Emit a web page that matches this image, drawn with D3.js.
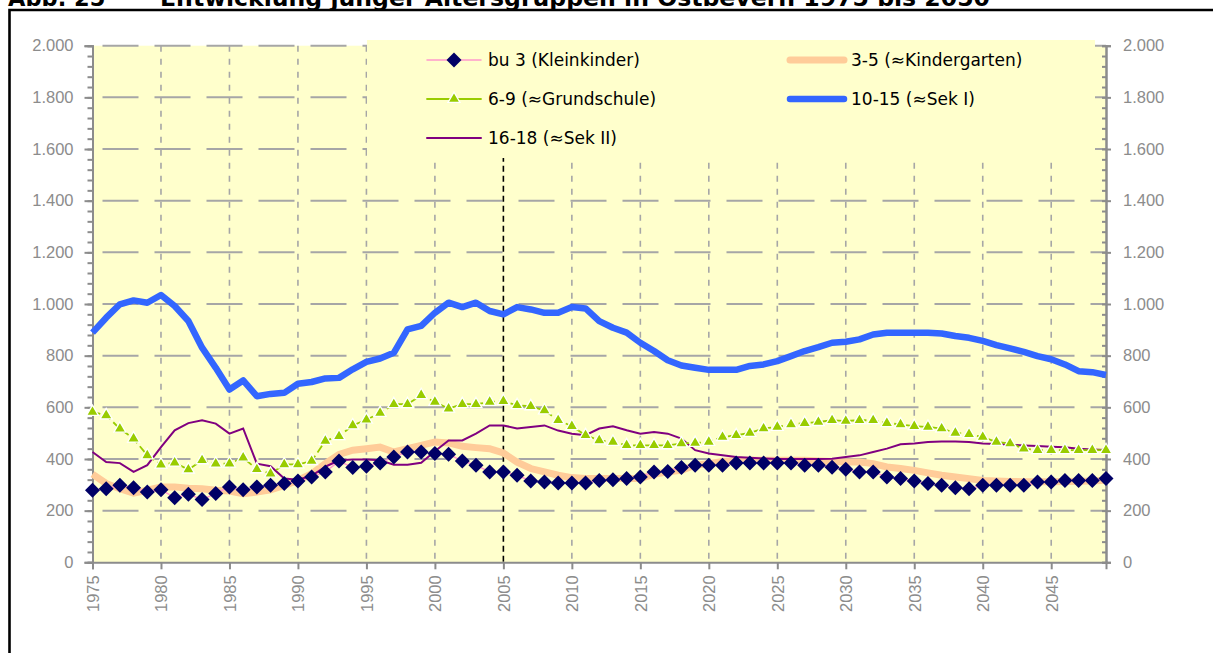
<!DOCTYPE html>
<html>
<head>
<meta charset="utf-8">
<script src="https://cdn.jsdelivr.net/npm/d3@7"></script>
<style>
  body { margin: 0; background: #fff; }
  svg { display: block; font-family: "DejaVu Sans", Verdana, sans-serif; }
  .axis path, .axis line { stroke: #8c8c8c; stroke-width: 2; }
  .axis text { fill: #8c8c8c; font-size: 16.5px; }
  .legend text { fill: #000; font-size: 17px; }
</style>
</head>
<body>
<div id="chart"></div>
<script>
// years 1975..2049
var years = d3.range(1975, 2050);
var xTicks = [1975, 1980, 1985, 1990, 1995, 2000, 2005, 2010, 2015, 2020, 2025, 2030, 2035, 2040, 2045];
var yTicks = [0, 200, 400, 600, 800, 1000, 1200, 1400, 1600, 1800, 2000];

var kleinkinder = [279, 285, 298, 289, 272, 281, 250, 263, 243, 266,
  292, 281, 292, 298, 305, 315, 330, 350, 392, 367,
  372, 384, 408, 427, 427, 421, 418, 392, 376, 350,
  350, 337, 315, 311, 307, 307, 307, 317, 320, 324,
  330, 350, 352, 367, 376, 376, 376, 384, 384, 384,
  384, 384, 376, 376, 368, 360, 350, 350, 330, 324,
  315, 305, 298, 289, 285, 298, 298, 298, 298, 311,
  311, 317, 317, 317, 324];

var kindergarten = [341, 305, 285, 268, 279, 292, 292, 287, 285, 279,
  276, 266, 272, 281, 298, 317, 343, 382, 418, 434,
  440, 446, 427, 440, 453, 466, 462, 449, 444, 440,
  423, 388, 363, 350, 337, 328, 324, 324, 324, 324,
  324, 341, 350, 356, 376, 382, 390, 393, 395, 395,
  395, 395, 395, 392, 390, 388, 388, 382, 369, 363,
  356, 346, 337, 330, 324, 317, 315, 313, 312, 312,
  312, 313, 314, 315, 318];

var grundschule = [582, 569, 517, 479, 414, 378, 386, 359, 395, 382,
  382, 405, 360, 343, 379, 379, 392, 470, 488, 530,
  552, 578, 612, 612, 647, 621, 595, 612, 612, 621,
  624, 608, 604, 588, 550, 527, 492, 472, 466, 453,
  453, 453, 453, 460, 462, 466, 485, 492, 501, 518,
  524, 534, 539, 543, 550, 547, 550, 550, 539, 534,
  527, 524, 518, 501, 496, 485, 466, 460, 440, 434,
  434, 434, 434, 434, 434];

var sek1 = [889, 947, 999, 1014, 1005, 1035, 992, 934, 831, 753,
  669, 704, 643, 652, 656, 691, 698, 712, 714, 747,
  776, 789, 811, 902, 915, 966, 1005, 988, 1005, 973,
  960, 988, 979, 966, 966, 988, 983, 934, 908, 889,
  850, 818, 782, 762, 753, 745, 745, 745, 760, 766,
  779, 798, 818, 833, 850, 854, 863, 882, 889, 889,
  889, 889, 886, 876, 869, 857, 841, 828, 815, 798,
  786, 766, 740, 736, 725];

var sek2 = [427, 388, 384, 350, 376, 446, 511, 539, 550, 537,
  498, 518, 382, 372, 324, 320, 335, 370, 395, 398,
  398, 395, 378, 378, 385, 430, 472, 472, 498, 530,
  530, 518, 524, 530, 510, 498, 492, 518, 527, 511,
  498, 504, 498, 479, 434, 421, 414, 408, 405, 402,
  400, 400, 400, 400, 401, 408, 414, 427, 440, 457,
  460, 466, 468, 468, 466, 460, 458, 455, 452, 450,
  447, 445, 440, 437, 435];

var seriesNames = ["bu 3 (Kleinkinder)", "3-5 (\u2248Kindergarten)", "6-9 (\u2248Grundschule)", "10-15 (\u2248Sek I)", "16-18 (\u2248Sek II)"];

var width = 1213, height = 653;
var plot = {left: 92.5, right: 1106, top: 45.7, bottom: 562.3};

var svg = d3.select("#chart").append("svg")
  .attr("width", width)
  .attr("height", height);

var x = d3.scaleLinear().domain([1975, 2049]).range([plot.left, plot.right]);
var y = d3.scaleLinear().domain([0, 2000]).range([plot.bottom, plot.top]);

var de = d3.formatLocale({decimal: ",", thousands: ".", grouping: [3], currency: ["", " €"]});
var fmt = de.format(",d");

// title + frame (title is cut at the top edge, like the source)
svg.append("text")
  .attr("x", 8).attr("y", 5.5)
  .attr("font-weight", "bold").attr("font-size", 22.5)
  .text("Abb. 25");
svg.append("text")
  .attr("x", 160).attr("y", 5.5)
  .attr("font-weight", "bold").attr("font-size", 22.5)
  .attr("textLength", 830).attr("lengthAdjust", "spacingAndGlyphs")
  .text("Entwicklung junger Altersgruppen in Ostbevern 1975 bis 2050");
svg.append("path")
  .attr("d", "M9.5," + height + "V10H" + width)
  .attr("fill", "none").attr("stroke", "#000").attr("stroke-width", 2.6);

// plot background
svg.append("rect")
  .attr("x", plot.left).attr("y", plot.top)
  .attr("width", plot.right - plot.left).attr("height", plot.bottom - plot.top)
  .attr("fill", "#ffffcc");

// grid
svg.append("g").selectAll("line")
  .data(yTicks.filter(function(d) { return d > 0; }))
  .enter().append("line")
  .attr("x1", plot.left).attr("x2", plot.right)
  .attr("y1", function(d) { return y(d); }).attr("y2", function(d) { return y(d); })
  .attr("stroke", "#a6a6a6").attr("stroke-width", 2)
  .attr("stroke-dasharray", "36,16").attr("stroke-dashoffset", -10);

svg.append("g").selectAll("line")
  .data(xTicks.filter(function(d) { return d != 1975 && d != 2005; }))
  .enter().append("line")
  .attr("x1", function(d) { return x(d); }).attr("x2", function(d) { return x(d); })
  .attr("y1", plot.top).attr("y2", plot.bottom)
  .attr("stroke", "#a6a6a6").attr("stroke-width", 1.6)
  .attr("stroke-dasharray", "6,7");

// 2005 marker
svg.append("line")
  .attr("x1", x(2005)).attr("x2", x(2005))
  .attr("y1", plot.top).attr("y2", plot.bottom)
  .attr("stroke", "#000").attr("stroke-width", 1.6)
  .attr("stroke-dasharray", "6,4");

// legend box (covers top of grid)
svg.append("rect")
  .attr("x", 367).attr("y", 40).attr("width", 728).attr("height", 118)
  .attr("fill", "#ffffcc");

// axes
var minor = d3.range(0, 2001, 40);
svg.append("g").attr("class", "axis")
  .attr("transform", "translate(" + plot.left + ",0)")
  .call(d3.axisLeft(y).tickValues(minor).tickSize(5).tickFormat(""));
svg.append("g").attr("class", "axis")
  .attr("transform", "translate(" + plot.left + ",0)")
  .call(d3.axisLeft(y).tickValues(yTicks).tickSize(8).tickPadding(11).tickFormat(fmt));

svg.append("g").attr("class", "axis")
  .attr("transform", "translate(" + plot.right + ",0)")
  .call(d3.axisLeft(y).tickValues(minor).tickSize(4).tickFormat(""));
svg.append("g").attr("class", "axis")
  .attr("transform", "translate(" + plot.right + ",0)")
  .call(d3.axisRight(y).tickValues(yTicks).tickSize(5).tickPadding(12).tickFormat(fmt));

var xAxis = svg.append("g").attr("class", "axis")
  .attr("transform", "translate(0," + plot.bottom + ")")
  .call(d3.axisBottom(x).tickValues(xTicks).tickSize(7).tickFormat(d3.format("d")));
xAxis.selectAll("text")
  .attr("transform", "rotate(-90)")
  .attr("x", -13).attr("y", 0).attr("dy", "0.36em")
  .style("text-anchor", "end");

// lines
var line = function(vals) {
  return d3.line()
    .x(function(d, i) { return x(years[i]); })
    .y(function(d) { return y(d); })(vals);
};

var g = svg.append("g");
g.append("path").attr("d", line(kindergarten))
  .attr("fill", "none").attr("stroke", "#ffcc99").attr("stroke-width", 7);
g.append("path").attr("d", line(kleinkinder))
  .attr("fill", "none").attr("stroke", "#ff99cc").attr("stroke-width", 1.5);
g.append("path").attr("d", line(sek2))
  .attr("fill", "none").attr("stroke", "#800080").attr("stroke-width", 2);
g.append("path").attr("d", line(grundschule))
  .attr("fill", "none").attr("stroke", "#99cc00").attr("stroke-width", 1.8)
  .attr("stroke-dasharray", "8,4");
g.append("path").attr("d", line(sek1))
  .attr("fill", "none").attr("stroke", "#3366ff").attr("stroke-width", 6.5)
  .attr("stroke-linejoin", "round");

var tri = d3.symbol().type(d3.symbolTriangle).size(62);
var dia = "M0,-7.5L7.5,0L0,7.5L-7.5,0Z";

g.selectAll(".tri")
  .data(grundschule).enter().append("path")
  .attr("class", "tri")
  .attr("d", tri)
  .attr("transform", function(d, i) { return "translate(" + x(years[i]) + "," + y(d) + ")"; })
  .attr("fill", "#99cc00").attr("stroke", "#fff").attr("stroke-width", 1.3);

g.selectAll(".dia")
  .data(kleinkinder).enter().append("path")
  .attr("class", "dia")
  .attr("d", dia)
  .attr("transform", function(d, i) { return "translate(" + x(years[i]) + "," + y(d) + ")"; })
  .attr("fill", "#000066");

// legend
var legendItems = [
  {name: seriesNames[0], lx: 427, ly: 60, color: "#ff99cc", w: 1.5, marker: "dia"},
  {name: seriesNames[1], lx: 790, ly: 60, color: "#ffcc99", w: 7, marker: null},
  {name: seriesNames[2], lx: 427, ly: 99, color: "#99cc00", w: 1.8, marker: "tri"},
  {name: seriesNames[3], lx: 790, ly: 99, color: "#3366ff", w: 6.5, marker: null},
  {name: seriesNames[4], lx: 427, ly: 138, color: "#800080", w: 2, marker: null}
];

var legend = svg.selectAll(".legend")
  .data(legendItems).enter().append("g")
  .attr("class", "legend")
  .attr("transform", function(d) { return "translate(" + d.lx + "," + d.ly + ")"; });

legend.append("line")
  .attr("x1", 0).attr("x2", 54).attr("y1", 0).attr("y2", 0)
  .attr("stroke", function(d) { return d.color; })
  .attr("stroke-width", function(d) { return d.w; })
  .attr("stroke-linecap", "round");

legend.filter(function(d) { return d.marker == "dia"; }).append("path")
  .attr("d", dia).attr("transform", "translate(27,0)").attr("fill", "#000066");
legend.filter(function(d) { return d.marker == "tri"; }).append("path")
  .attr("d", tri).attr("transform", "translate(27,0)")
  .attr("fill", "#99cc00").attr("stroke", "#fff").attr("stroke-width", 1.3);

legend.append("text")
  .attr("x", 61)
  .attr("y", 0).attr("dy", "0.36em")
  .text(function(d) { return d.name; });
</script>
</body>
</html>
